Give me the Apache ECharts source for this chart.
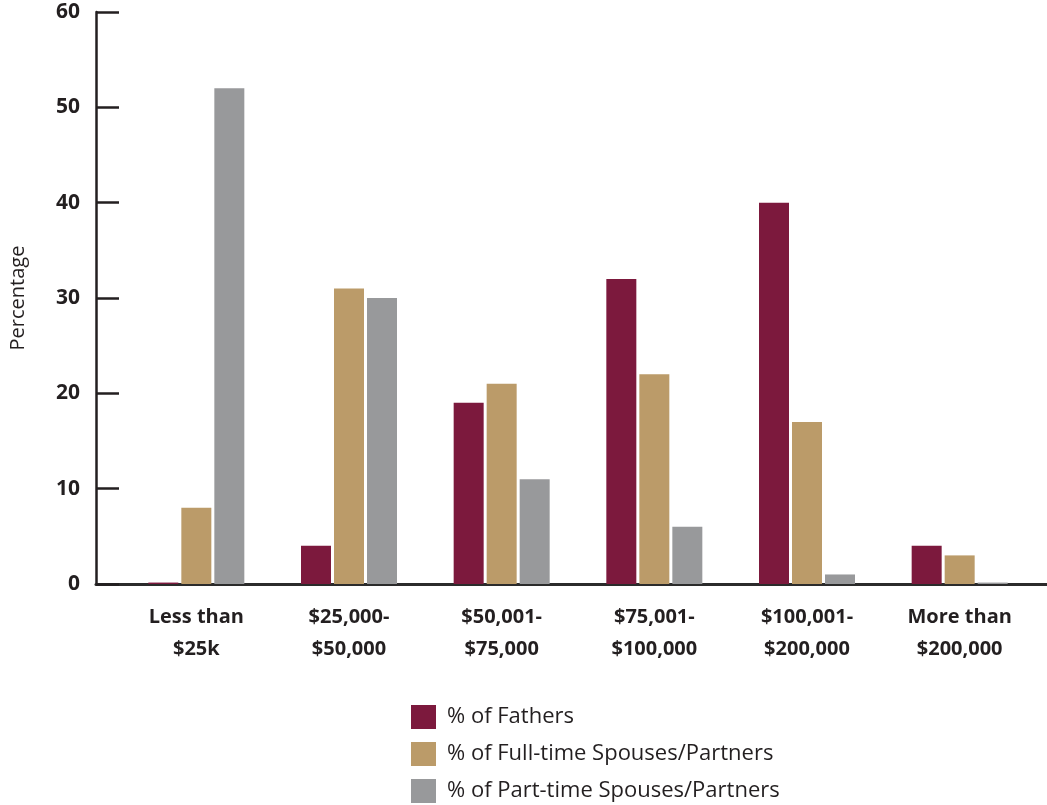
<!DOCTYPE html>
<html>
<head>
<meta charset="utf-8">
<style>
  html, body { margin: 0; padding: 0; background: #fff; }
  #chart { width: 1047px; height: 805px; }
</style>
<script src="https://cdn.jsdelivr.net/npm/echarts@6/dist/echarts.min.js"></script>
</head>
<body>
<div id="chart"></div>
<script>
// categories and values
const categories = ['Less than\n$25k', '$25,000-\n$50,000', '$50,001-\n$75,000', '$75,001-\n$100,000', '$100,001-\n$200,000', 'More than\n$200,000']
const fathers = [0.15, 4, 19, 32, 40, 4]
const fullTime = [8, 31, 21, 22, 17, 3]
const partTime = [52, 30, 11, 6, 1, 0.15]
const seriesNames = ['% of Fathers', '% of Full-time Spouses/Partners', '% of Part-time Spouses/Partners']
const colors = ['#7c193d', '#bb9b69', '#98999b']

const font = '"Open Sans", Lato, sans-serif'
const ink = '#231f20'

const chart = echarts.init(document.getElementById('chart'))

const makeBar = (name, data, color) => ({
  name: name,
  type: 'bar',
  xAxisIndex: 0,
  yAxisIndex: 0,
  data: data,
  barWidth: 30,
  barGap: '10%',
  itemStyle: { color: color },
  emphasis: { disabled: true }
})

chart.setOption({
  animation: false,
  color: colors,
  textStyle: { fontFamily: font },
  grid: [
    // bars
    { left: 120, right: 11, top: 12, bottom: 221 },
    // frame: y axis and the full-width baseline
    { left: 93, right: 0, top: 12, bottom: 221 }
  ],
  legend: {
    orient: 'vertical',
    left: 411,
    top: 705,
    padding: 0,
    itemWidth: 25,
    itemHeight: 24,
    itemGap: 13,
    icon: 'rect',
    textStyle: { fontSize: 22, color: ink, fontFamily: font, padding: [0, 0, 0, 6] },
    data: seriesNames
  },
  xAxis: [
    {
      type: 'category',
      gridIndex: 0,
      data: categories,
      axisLine: { show: false },
      axisTick: { show: false },
      axisLabel: {
        margin: 17,
        fontSize: 20,
        fontWeight: 'bold',
        color: ink,
        lineHeight: 32,
        fontFamily: font
      }
    },
    {
      type: 'value',
      gridIndex: 1,
      min: 0,
      max: 1,
      axisLine: { show: true, lineStyle: { color: '#2b2b2b', width: 3 } },
      axisTick: { show: false },
      axisLabel: { show: false },
      splitLine: { show: false }
    }
  ],
  yAxis: [
    {
      type: 'value',
      gridIndex: 0,
      min: 0,
      max: 60,
      show: false
    },
    {
      type: 'value',
      gridIndex: 1,
      min: 0,
      max: 60,
      interval: 10,
      name: 'Percentage',
      nameLocation: 'middle',
      nameGap: 68,
      nameTextStyle: { fontSize: 20, color: ink, fontFamily: font },
      axisLine: { show: true, lineStyle: { color: ink, width: 2.5 } },
      axisTick: { show: true, inside: true, length: 23, lineStyle: { color: ink, width: 2.5 } },
      axisLabel: { margin: 16, fontSize: 21, fontWeight: 'bold', color: ink, fontFamily: font },
      splitLine: { show: false }
    }
  ],
  series: [
    makeBar(seriesNames[0], fathers, colors[0]),
    makeBar(seriesNames[1], fullTime, colors[1]),
    makeBar(seriesNames[2], partTime, colors[2])
  ]
})
</script>
</body>
</html>
